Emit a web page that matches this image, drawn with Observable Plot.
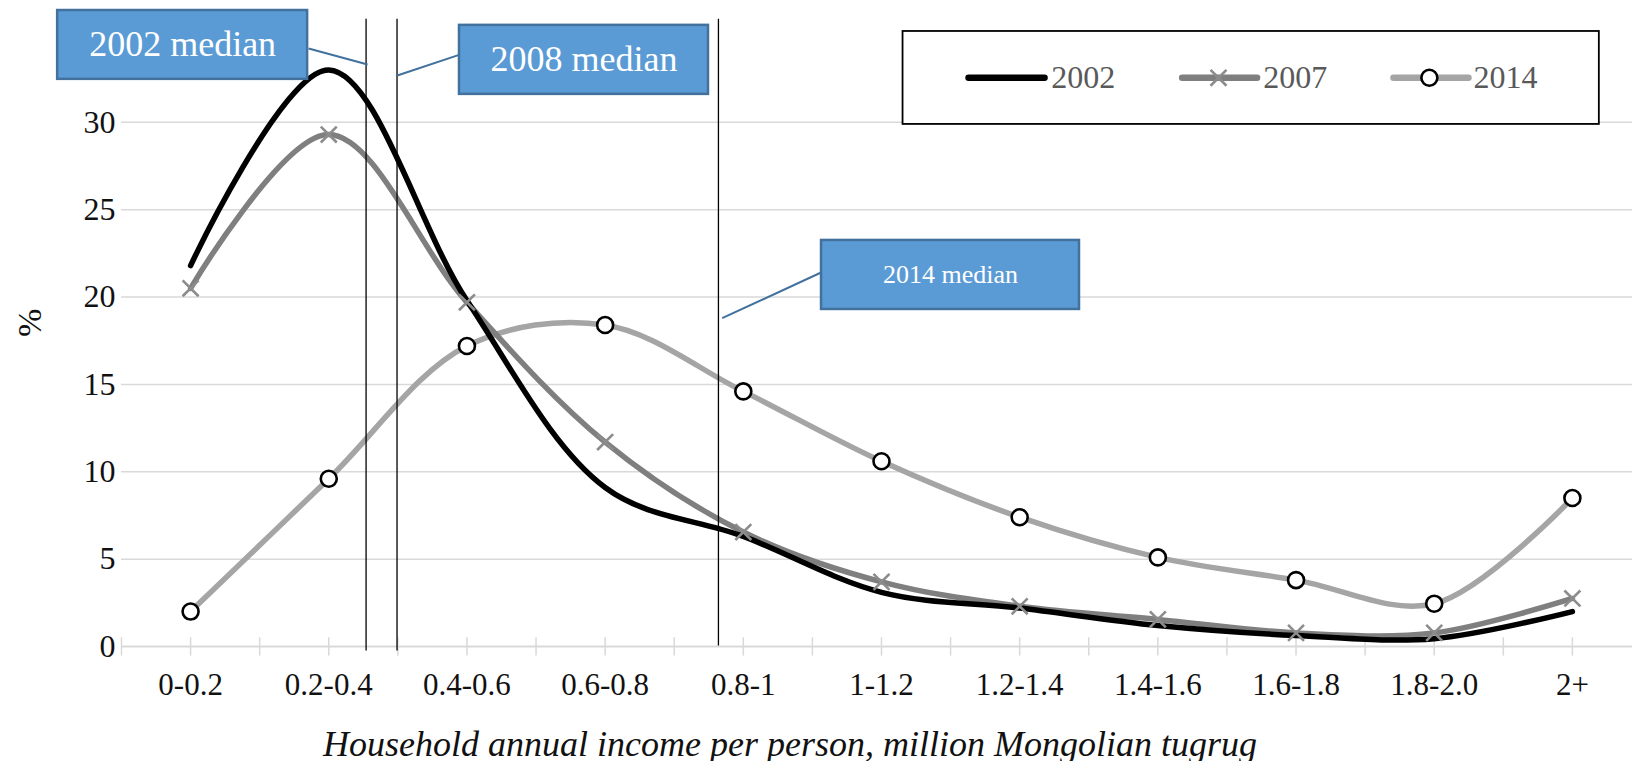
<!DOCTYPE html>
<html>
<head>
<meta charset="utf-8">
<script src="https://cdn.jsdelivr.net/npm/d3@7"></script>
<script src="https://cdn.jsdelivr.net/npm/@observablehq/plot@0.6"></script>
<style>
  html, body { margin: 0; padding: 0; background: #fff; overflow: hidden; }
  #chart svg { display: block; }
</style>
</head>
<body>
<div id="chart"></div>
<script>
// ---- data ----
const categories = ["0-0.2", "0.2-0.4", "0.4-0.6", "0.6-0.8", "0.8-1", "1-1.2", "1.2-1.4", "1.4-1.6", "1.6-1.8", "1.8-2.0", "2+"];
const series2002 = [21.8, 33.0, 19.8, 9.1, 6.3, 3.1, 2.2, 1.2, 0.63, 0.45, 2.0];
const series2007 = [20.5, 29.3, 19.7, 11.7, 6.55, 3.7, 2.3, 1.55, 0.78, 0.78, 2.75];
const series2014 = [2.0, 9.6, 17.2, 18.4, 14.6, 10.6, 7.4, 5.1, 3.8, 2.45, 8.5];
const yTicks = [0, 5, 10, 15, 20, 25, 30];
const medianLabels = ["2002 median", "2008 median", "2014 median"];
const medianPositions = [1.27, 1.494, 3.82]; // in category-index units
const legendLabels = ["2002", "2007", "2014"];
const xTitle = "Household annual income per person, million Mongolian tugrug";
const yTitle = "%";

// ---- styles / layout (not data) ----
const C2002 = "#000000", C2007 = "#7f7f7f", C2014 = "#a5a5a5";
const GRID = "#d9d9d9", BOXFILL = "#5b9bd5", BOXSTROKE = "#41719c";
const FONT = "Liberation Serif";

const rows = (vals) => vals.map((v, i) => ({i, v}));
const d2002 = rows(series2002), d2007 = rows(series2007), d2014 = rows(series2014);

const medianRules = medianPositions.map((x, k) => ({x, bottom: k < 2 ? -0.26 : 0.03}));
// annotation boxes (x in category-index units, y in %)
const boxes = [
  {label: medianLabels[0], x1: -0.962, x2: 0.847, y1: 32.46, y2: 36.4, fs: 36},
  {label: medianLabels[1], x1: 1.946, x2: 3.748, y1: 31.6, y2: 35.55, fs: 36},
  {label: medianLabels[2], x1: 4.566, x2: 6.433, y1: 19.29, y2: 23.24, fs: 26}
];
const leaders = [
  {x1: 0.854, y1: 34.23, x2: 1.281, y2: 33.31},
  {x1: 1.954, y1: 33.89, x2: 1.496, y2: 32.68},
  {x1: 4.559, y1: 21.39, x2: 3.847, y2: 18.79}
];
const legendY = 32.55;
const legendItems = [
  {label: legendLabels[0], x1: 5.63, x2: 6.18, xm: null, tx: 6.228, stroke: C2002, marker: null},
  {label: legendLabels[1], x1: 7.176, x2: 7.718, xm: 7.439, tx: 7.762, stroke: C2007, marker: "times"},
  {label: legendLabels[2], x1: 8.705, x2: 9.248, xm: 8.965, tx: 9.284, stroke: C2014, marker: "circle"}
];
const tickPositions = d3.range(-0.5, categories.length, 0.5);

const chart = Plot.plot({
  width: 1632,
  height: 761,
  marginLeft: 121,
  marginRight: 0,
  marginTop: 17,
  marginBottom: 115,
  x: {domain: [-0.5, 10.435]},
  y: {domain: [0, 36]},
  style: {fontFamily: FONT, background: "#fff", overflow: "visible", color: "#000"},
  marks: [
    // grid & axis line
    Plot.ruleY(yTicks.filter(d => d > 0), {stroke: GRID, strokeWidth: 1.5}),
    Plot.ruleY([0], {stroke: GRID, strokeWidth: 1.8}),
    Plot.ruleX(tickPositions, {y1: -0.55, y2: 0.5, stroke: GRID, strokeWidth: 1.5}),
    Plot.axisY(yTicks, {tickSize: 0, tickPadding: 6, fontSize: 32, label: null, fill: "#111"}),
    Plot.axisX(d3.range(categories.length), {tickFormat: i => categories[i], tickSize: 0, tickPadding: 26, fontSize: 31, label: null, fill: "#111"}),
    // series
    Plot.line(d2014, {x: "i", y: "v", stroke: C2014, strokeWidth: 5.5, curve: "catmull-rom", strokeLinecap: "round"}),
    Plot.line(d2007, {x: "i", y: "v", stroke: C2007, strokeWidth: 5.5, curve: "catmull-rom", strokeLinecap: "round"}),
    Plot.line(d2002, {x: "i", y: "v", stroke: C2002, strokeWidth: 5.5, curve: "catmull-rom", strokeLinecap: "round"}),
    Plot.dot(d2007, {x: "i", y: "v", symbol: "times", r: 7.3, stroke: "#8c8c8c", strokeWidth: 2.6}),
    Plot.dot(d2014, {x: "i", y: "v", symbol: "circle", r: 8, fill: "#fff", stroke: "#000", strokeWidth: 2.6}),
    // medians
    Plot.ruleX(medianRules, {x: "x", y1: "bottom", y2: 35.9, stroke: "#000", strokeWidth: 1.3}),
    Plot.link(leaders, {x1: "x1", y1: "y1", x2: "x2", y2: "y2", stroke: BOXSTROKE, strokeWidth: 2}),
    Plot.rect(boxes, {x1: "x1", x2: "x2", y1: "y1", y2: "y2", fill: BOXFILL, stroke: BOXSTROKE, strokeWidth: 2.5}),
    Plot.text(boxes, {x: d => (d.x1 + d.x2) / 2, y: d => (d.y1 + d.y2) / 2, text: "label", fill: "#fff", fontSize: d => d.fs, lineAnchor: "middle", textAnchor: "middle"}),
    // legend
    Plot.rect([0], {x1: 5.156, x2: 10.195, y1: 29.88, y2: 35.2, fill: "#fff", stroke: "#000", strokeWidth: 1.8}),
    Plot.link(legendItems, {x1: "x1", x2: "x2", y1: legendY, y2: legendY, stroke: "stroke", strokeWidth: 6.5, strokeLinecap: "round"}),
    Plot.dot(legendItems.filter(d => d.marker === "times"), {x: "xm", y: legendY, symbol: "times", r: 7.3, stroke: "#8c8c8c", strokeWidth: 2.6}),
    Plot.dot(legendItems.filter(d => d.marker === "circle"), {x: "xm", y: legendY, symbol: "circle", r: 8, fill: "#fff", stroke: "#000", strokeWidth: 2.6}),
    Plot.text(legendItems, {x: "tx", y: legendY, text: "label", textAnchor: "start", lineAnchor: "middle", fontSize: 32, fill: "#595959"}),
    // axis titles
    Plot.text([yTitle], {frameAnchor: "left", dx: -91, dy: 5, rotate: -90, fontSize: 34, fill: "#111", lineAnchor: "middle"}),
    Plot.text([xTitle], {frameAnchor: "bottom", dx: -87, dy: 98, fontSize: 36, fontStyle: "italic", fill: "#111", lineAnchor: "middle"})
  ]
});
document.getElementById("chart").appendChild(chart);
</script>
</body>
</html>
